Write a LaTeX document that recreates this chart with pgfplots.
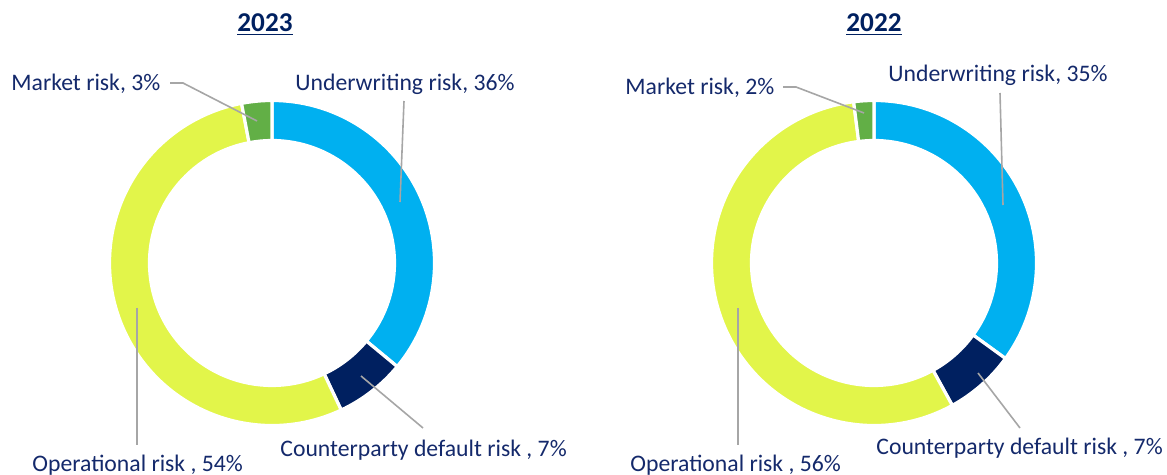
\documentclass[border=0pt]{standalone}
\usepackage{pgfplots}
\usepackage{pgfplotstable}
\usepackage{fontspec}
\setmainfont{Carlito}
\pgfplotsset{compat=1.18}
\definecolor{cUnder}{HTML}{00B0F0}
\definecolor{cCounter}{HTML}{002060}
\definecolor{cOper}{HTML}{E2F54A}
\definecolor{cMarket}{HTML}{62AF46}
\definecolor{cText}{HTML}{14296B}
\definecolor{cLead}{HTML}{A6A6A6}
\tikzset{lbl/.style={font=\fontsize{11.85}{14}\selectfont, text=cText, inner sep=0pt},
  ttl/.style={font=\fontsize{13.6}{16}\selectfont\bfseries, text=cCounter, inner sep=0pt}}

\pgfplotstableread{
risk y2023 y2022
Underwriting 36 35
Counterparty 7 7
Operational 54 56
Market 3 2
}\riskdata

% cumulative angles, clockwise from the top
\pgfplotstablegetelem{0}{y2023}\of\riskdata\pgfmathsetmacro\Aa{90-3.6*\pgfplotsretval}
\pgfplotstablegetelem{1}{y2023}\of\riskdata\pgfmathsetmacro\Ab{\Aa-3.6*\pgfplotsretval}
\pgfplotstablegetelem{2}{y2023}\of\riskdata\pgfmathsetmacro\Ac{\Ab-3.6*\pgfplotsretval}
\pgfplotstablegetelem{3}{y2023}\of\riskdata\pgfmathsetmacro\Ad{\Ac-3.6*\pgfplotsretval}
\pgfplotstablegetelem{0}{y2022}\of\riskdata\pgfmathsetmacro\Ba{90-3.6*\pgfplotsretval}
\pgfplotstablegetelem{1}{y2022}\of\riskdata\pgfmathsetmacro\Bb{\Ba-3.6*\pgfplotsretval}
\pgfplotstablegetelem{2}{y2022}\of\riskdata\pgfmathsetmacro\Bc{\Bb-3.6*\pgfplotsretval}
\pgfplotstablegetelem{3}{y2022}\of\riskdata\pgfmathsetmacro\Bd{\Bc-3.6*\pgfplotsretval}

\newcommand\Rout{81.25pt}
\newcommand\Rin{61.25pt}
\newcommand\Thk{20pt}
\newcommand\seg[5]{%
  \fill[#5, draw=white, line width=1.6pt] (axis cs:#1,#2) ++(#3:\Rout)
    arc[start angle=#3, end angle=#4, radius=\Rout]
    -- ++({#4+180}:\Thk)
    arc[start angle=#4, end angle=#3, radius=\Rin] -- cycle;}

\begin{document}
\begin{tikzpicture}
\begin{axis}[x=0.5pt, y=0.5pt, xmin=0, xmax=1167, ymin=0, ymax=475,
  y dir=reverse, hide axis, axis lines=none, xtick=\empty, ytick=\empty, clip=false]
\coordinate (BL) at (axis cs:0,475);
\coordinate (TR) at (axis cs:1167,0);
% 2023 donut
\seg{272}{263}{90}{\Aa}{cUnder}
\seg{272}{263}{\Aa}{\Ab}{cCounter}
\seg{272}{263}{\Ab}{\Ac}{cOper}
\seg{272}{263}{\Ac}{\Ad}{cMarket}
% 2022 donut
\seg{874}{263}{90}{\Ba}{cUnder}
\seg{874}{263}{\Ba}{\Bb}{cCounter}
\seg{874}{263}{\Bb}{\Bc}{cOper}
\seg{874}{263}{\Bc}{\Bd}{cMarket}
% titles
\node[ttl] at (axis cs:265,25) {\underline{2023}};
\node[ttl] at (axis cs:874,25) {\underline{2022}};
% leader lines
\begin{scope}[cLead, line width=0.8pt]
\draw (axis cs:170,83) -- (axis cs:183,83) -- (axis cs:257,121);
\draw (axis cs:404,101) -- (axis cs:400,202);
\draw (axis cs:361,376) -- (axis cs:423,428);
\draw (axis cs:137,308) -- (axis cs:137,445);
\draw (axis cs:783,87) -- (axis cs:796,87) -- (axis cs:864,113);
\draw (axis cs:1000,93) -- (axis cs:1003,205);
\draw (axis cs:978,373) -- (axis cs:1020,428);
\draw (axis cs:738,308) -- (axis cs:738,445);
\end{scope}
% labels
\node[lbl, anchor=west] at (axis cs:11,84) {Market risk, 3\%};
\node[lbl, anchor=west] at (axis cs:295,84) {Underwriting risk, 36\%};
\node[lbl, anchor=west] at (axis cs:280,450) {Counterparty default risk , 7\%};
\node[lbl, anchor=west] at (axis cs:32,465) {Operational risk , 54\%};
\node[lbl, anchor=west] at (axis cs:625,88) {Market risk, 2\%};
\node[lbl, anchor=west] at (axis cs:888,75) {Underwriting risk, 35\%};
\node[lbl, anchor=west] at (axis cs:876,448) {Counterparty default risk , 7\%};
\node[lbl, anchor=west] at (axis cs:630,465) {Operational risk , 56\%};
\end{axis}
\pgfresetboundingbox
\path (BL) rectangle (TR);
\end{tikzpicture}
\end{document}
